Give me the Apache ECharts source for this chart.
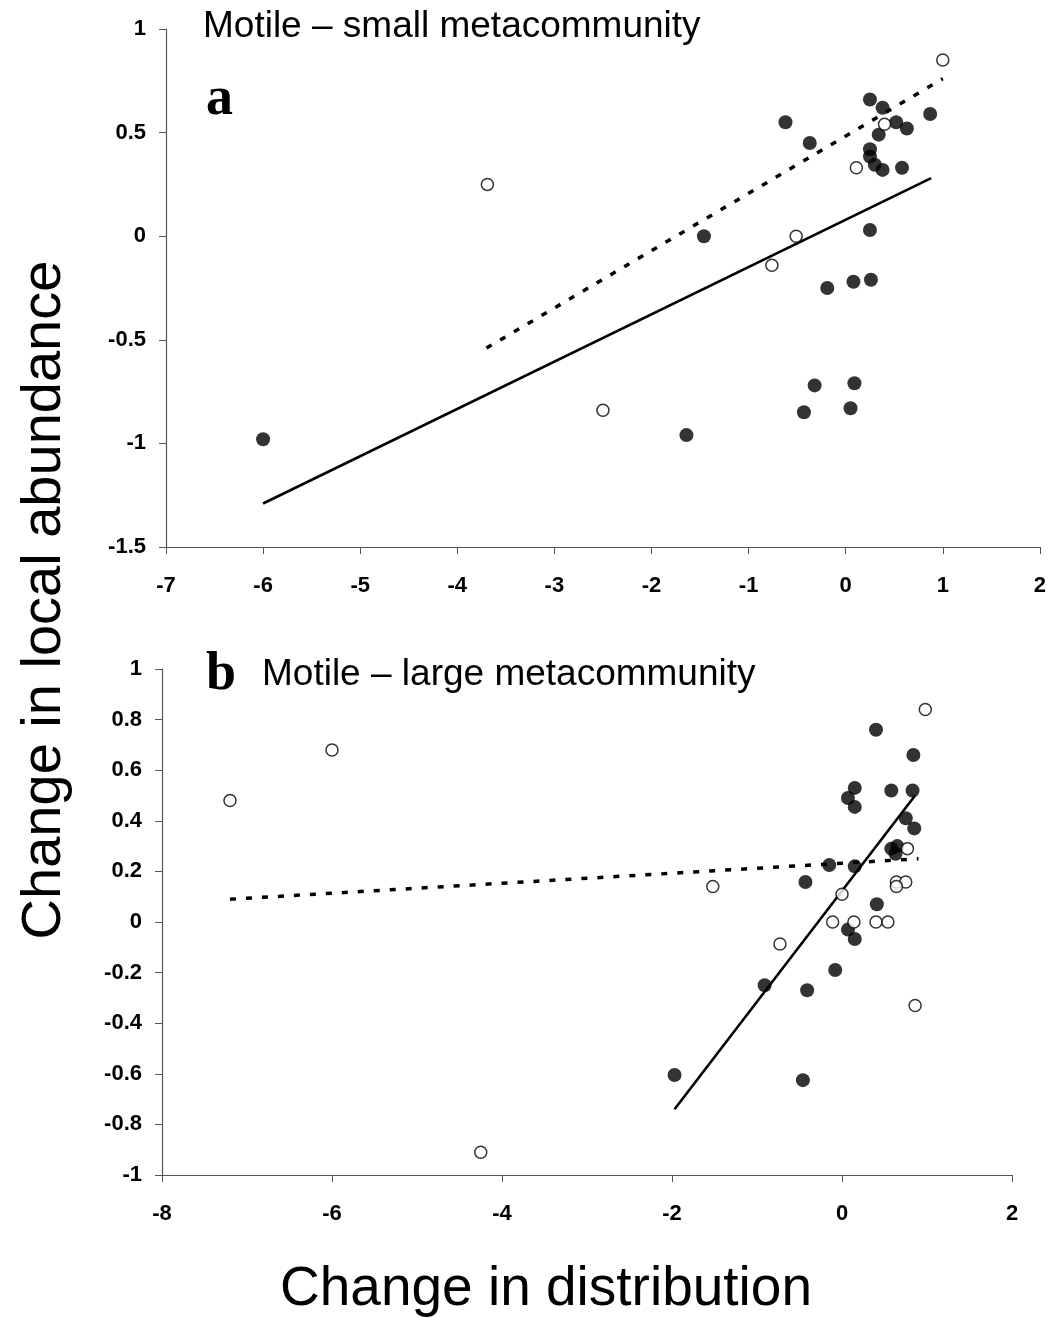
<!DOCTYPE html>
<html><head><meta charset="utf-8">
<script src="https://cdn.jsdelivr.net/npm/echarts@6/dist/echarts.min.js"></script>
<style>html,body{margin:0;padding:0;background:#fff}#c{width:1049px;height:1318px}</style>
</head><body><div id="c"></div>
<script>
// Panel a: Motile – small metacommunity
const aFilled = [[-6.0,-0.98],[-1.64,-0.96],[-1.46,0.0],[-0.62,0.55],[-0.37,0.45],[0.25,0.66],[0.38,0.62],[0.52,0.55],[0.63,0.52],[0.87,0.59],[0.34,0.49],[0.25,0.42],[0.25,0.385],[0.30,0.345],[0.38,0.32],[0.58,0.33],[0.25,0.03],[-0.19,-0.25],[0.08,-0.22],[0.26,-0.21],[-0.32,-0.72],[0.09,-0.71],[-0.43,-0.85],[0.05,-0.83]];
const aOpen = [[-3.69,0.25],[-2.5,-0.84],[-0.76,-0.14],[-0.51,0.0],[0.11,0.33],[0.40,0.54],[1.0,0.85]];
const aSolidFit = [[-6.0,-1.29],[0.88,0.28]];
const aDashedFit = [[-3.7,-0.54],[1.0,0.76]];
// Panel b: Motile – large metacommunity
const bFilled = [[-1.97,-0.605],[-0.43,0.158],[-0.15,0.225],[0.15,0.22],[0.07,-0.03],[0.15,-0.067],[0.41,0.07],[-0.08,-0.19],[-0.91,-0.25],[-0.41,-0.27],[-0.46,-0.625],[0.40,0.76],[0.84,0.66],[0.15,0.53],[0.58,0.52],[0.83,0.52],[0.07,0.49],[0.15,0.455],[0.75,0.41],[0.85,0.37],[0.58,0.29],[0.65,0.30],[0.63,0.27]];
const bOpen = [[-7.2,0.48],[-6.0,0.68],[-4.25,-0.91],[-1.52,0.14],[0.0,0.11],[-0.73,-0.087],[-0.11,0.0],[0.14,0.0],[0.40,0.0],[0.54,0.0],[0.86,-0.33],[0.64,0.158],[0.75,0.158],[0.64,0.14],[0.98,0.84],[0.77,0.29]];
const bSolidFit = [[-1.97,-0.74],[0.86,0.50]];
const bDashedFit = [[-7.2,0.09],[0.9,0.25]];
const aXTicks = {min:-7,max:2,interval:1};
const aYTicks = {min:-1.5,max:1,interval:0.5};
const bXTicks = {min:-8,max:2,interval:2};
const bYTicks = {min:-1,max:1,interval:0.2};
const titleA = 'Motile – small metacommunity';
const titleB = 'Motile – large metacommunity';
const yTitle = 'Change in local abundance';
const xTitle = 'Change in distribution';

const chart = echarts.init(document.getElementById('c'));
const axisLbl = {fontFamily:'Liberation Sans, Arial', fontWeight:'bold', fontSize:22, color:'#000'};
function xAx(t, idx){return {type:'value', gridIndex:idx, min:t.min, max:t.max, interval:t.interval,
  axisLine:{onZero:false, lineStyle:{color:'#555', width:1.2}}, axisTick:{show:true, length:7, lineStyle:{color:'#555'}},
  splitLine:{show:false}, axisLabel:Object.assign({margin:28}, axisLbl)};}
function yAx(t, idx){return {type:'value', gridIndex:idx, min:t.min, max:t.max, interval:t.interval,
  axisLine:{show:true, onZero:false, lineStyle:{color:'#555', width:1.2}}, axisTick:{show:true, length:7, lineStyle:{color:'#555'}},
  splitLine:{show:false}, axisLabel:Object.assign({margin:20, formatter:v=>String(Math.round(v*10)/10)}, axisLbl)};}
const filledStyle = {color:'#000'};
const openStyle = {color:'#fff', borderColor:'#000', borderWidth:1.5};
chart.setOption({
  animation:false,
  grid:[{left:166, top:29, width:874, height:518},{left:162, top:669, width:850, height:506}],
  xAxis:[xAx(aXTicks,0), xAx(bXTicks,1)],
  yAxis:[yAx(aYTicks,0), yAx(bYTicks,1)],
  graphic:[
    {type:'text', left:203, top:8, style:{text:titleA, font:'37px "Liberation Sans", Arial', fill:'#000'}},
    {type:'text', left:206, top:73, style:{text:'a', font:'bold 54px "Liberation Serif", "Times New Roman", serif', fill:'#000'}},
    {type:'text', left:206, top:648, style:{text:'b', font:'bold 54px "Liberation Serif", "Times New Roman", serif', fill:'#000'}},
    {type:'text', left:262, top:656, style:{text:titleB, font:'37px "Liberation Sans", Arial', fill:'#000'}},
    {type:'text', x:45, y:600, rotation:Math.PI/2, style:{text:yTitle, font:'56px "Liberation Sans", Arial', fill:'#000', align:'center', verticalAlign:'middle'}},
    {type:'text', x:546, y:1290, style:{text:xTitle, font:'55px "Liberation Sans", Arial', fill:'#000', align:'center', verticalAlign:'middle'}}
  ],
  series:[
    {type:'line', xAxisIndex:0, yAxisIndex:0, data:aSolidFit, symbol:'none', lineStyle:{color:'#000', width:2.6}, z:1},
    {type:'line', xAxisIndex:0, yAxisIndex:0, data:aDashedFit, symbol:'none', lineStyle:{color:'#000', width:3.5, type:[6,10]}, z:1},
    {type:'scatter', xAxisIndex:0, yAxisIndex:0, data:aFilled, symbolSize:14, itemStyle:filledStyle, z:3},
    {type:'scatter', xAxisIndex:0, yAxisIndex:0, data:aOpen, symbolSize:12, itemStyle:openStyle, z:4},
    {type:'line', xAxisIndex:1, yAxisIndex:1, data:bSolidFit, symbol:'none', lineStyle:{color:'#000', width:2.6}, z:1},
    {type:'line', xAxisIndex:1, yAxisIndex:1, data:bDashedFit, symbol:'none', lineStyle:{color:'#000', width:3.5, type:[6,10]}, z:1},
    {type:'scatter', xAxisIndex:1, yAxisIndex:1, data:bFilled, symbolSize:14, itemStyle:filledStyle, z:3},
    {type:'scatter', xAxisIndex:1, yAxisIndex:1, data:bOpen, symbolSize:12, itemStyle:openStyle, z:4}
  ]
});
</script></body></html>
